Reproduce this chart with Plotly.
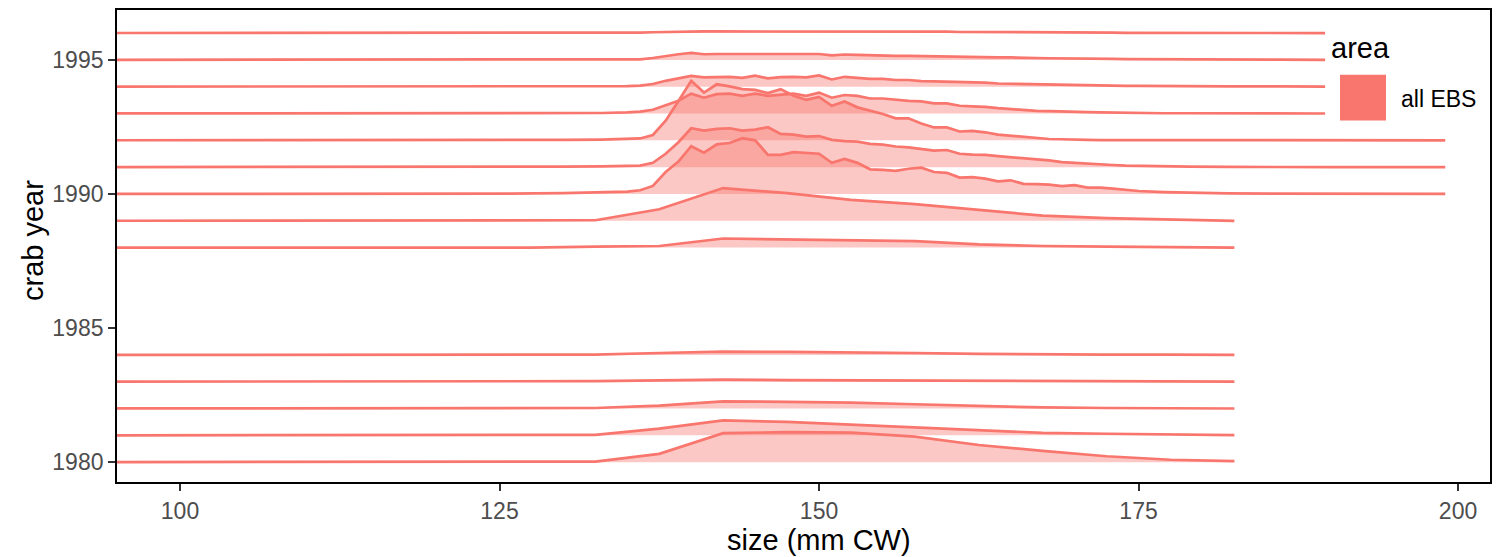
import plotly.graph_objects as go

# ---------------- data ----------------
years_coarse = [1980, 1981, 1982, 1983, 1984, 1988, 1989]
size_coarse = [90, 127.5, 132.5, 137.5, 142.5, 147.5, 152.5, 157.5, 162.5, 167.5, 172.5, 177.5, 182.5]
h1980 = [0, 0, 0.02, 0.31, 1.08, 1.12, 1.10, 0.95, 0.64, 0.42, 0.22, 0.09, 0.04]
h1981 = [0, 0, 0.02, 0.25, 0.56, 0.50, 0.40, 0.29, 0.20, 0.09, 0.06, 0.04, 0.01]
h1982 = [0, 0, 0.02, 0.11, 0.27, 0.25, 0.22, 0.16, 0.09, 0.04, 0.02, 0.01, 0]
h1983 = [0, 0, 0.02, 0.05, 0.08, 0.06, 0.05, 0.04, 0.03, 0.02, 0.01, 0.01, 0]
h1984 = [0, 0, 0.01, 0.07, 0.12, 0.11, 0.10, 0.07, 0.04, 0.02, 0.01, 0.01, 0]
h1988 = [0, 0, 0.04, 0.06, 0.34, 0.31, 0.28, 0.24, 0.12, 0.06, 0.04, 0.01, 0]
h1989 = [0, 0, 0.02, 0.43, 1.22, 1.03, 0.78, 0.62, 0.41, 0.19, 0.10, 0.04, 0]

size_left = [90, 120, 125, 130, 133, 135]
size_mid = list(range(136, 171))
size_right_a = [171, 172, 173, 174, 175, 177, 179, 182, 186, 190, 199]   # 1990-1992
size_right_b = [171, 172, 173, 174, 175, 177, 179, 182, 186, 189.6]      # 1993-1996

h1990 = ([0, 0, 0.01, 0.03, 0.05, 0.09] +
         [0.14, 0.30, 0.82, 1.21, 1.78, 1.54, 1.85, 1.90, 2.08, 2.00, 1.46, 1.46, 1.56, 1.54, 1.50,
          1.16, 1.31, 1.16, 0.92, 0.90, 0.86, 0.94, 0.98, 0.82, 0.79, 0.61, 0.63, 0.57, 0.47, 0.51,
          0.38, 0.37, 0.35, 0.29, 0.33] +
         [0.24, 0.24, 0.20, 0.15, 0.11, 0.07, 0.05, 0.02, 0.01, 0, 0])
h1991 = ([0, 0, 0.005, 0.02, 0.03, 0.04] +
         [0.06, 0.16, 0.50, 0.93, 1.45, 1.36, 1.43, 1.45, 1.36, 1.40, 1.49, 1.24, 1.21, 1.14, 1.16,
          1.02, 0.97, 0.95, 0.87, 0.84, 0.77, 0.74, 0.68, 0.62, 0.64, 0.50, 0.47, 0.46, 0.41, 0.37,
          0.35, 0.30, 0.25, 0.19, 0.16] +
         [0.12, 0.10, 0.08, 0.06, 0.05, 0.03, 0.02, 0.01, 0, 0, 0])
h1992 = ([0, 0, 0.005, 0.02, 0.03, 0.05] +
         [0.07, 0.20, 0.73, 1.47, 2.22, 1.78, 2.09, 2.01, 1.91, 1.88, 1.76, 1.91, 1.66, 1.51, 1.62,
          1.29, 1.45, 1.23, 1.10, 0.98, 0.82, 0.82, 0.63, 0.48, 0.48, 0.33, 0.35, 0.30, 0.21, 0.17,
          0.11, 0.07, 0.05, 0.04, 0.02] +
         [0.02, 0.01, 0.01, 0.01, 0, 0, 0, 0, 0, 0, 0])
h1993 = ([0, 0, 0, 0.01, 0.02, 0.04] +
         [0.07, 0.14, 0.32, 0.48, 0.74, 0.59, 0.72, 0.74, 0.66, 0.74, 0.66, 0.69, 0.74, 0.66, 0.78,
          0.59, 0.69, 0.66, 0.56, 0.56, 0.51, 0.47, 0.45, 0.38, 0.38, 0.29, 0.27, 0.25, 0.20, 0.16,
          0.12, 0.10, 0.09, 0.07, 0.06] +
         [0.05, 0.04, 0.03, 0.02, 0.02, 0.01, 0.01, 0, 0, 0])
h1994 = ([0, 0, 0, 0, 0.01, 0.02] +
         [0.04, 0.10, 0.22, 0.32, 0.40, 0.35, 0.36, 0.37, 0.33, 0.41, 0.31, 0.36, 0.37, 0.35, 0.42,
          0.27, 0.37, 0.33, 0.29, 0.29, 0.25, 0.25, 0.21, 0.20, 0.19, 0.16, 0.16, 0.15, 0.12, 0.11,
          0.10, 0.09, 0.07, 0.06, 0.05] +
         [0.05, 0.04, 0.04, 0.03, 0.03, 0.02, 0.02, 0.01, 0.01, 0])
h1995 = ([0, 0, 0, 0, 0, 0.01] +
         [0.02, 0.07, 0.15, 0.21, 0.26, 0.21, 0.22, 0.22, 0.21, 0.22, 0.21, 0.22, 0.22, 0.21, 0.22,
          0.17, 0.20, 0.19, 0.17, 0.16, 0.15, 0.15, 0.14, 0.12, 0.11, 0.11, 0.10, 0.10, 0.09, 0.09,
          0.07, 0.07, 0.06, 0.06, 0.05] +
         [0.05, 0.04, 0.04, 0.03, 0.03, 0.02, 0.02, 0.01, 0.01, 0])
h1996 = ([0, 0, 0, 0, 0, 0.01] +
         [0.02, 0.03, 0.04, 0.05, 0.07, 0.06, 0.06, 0.06, 0.06, 0.06, 0.07, 0.07, 0.07, 0.07, 0.06,
          0.06, 0.06, 0.06, 0.06, 0.06, 0.06, 0.05, 0.05, 0.05, 0.05, 0.04, 0.04, 0.04, 0.04, 0.03,
          0.03, 0.03, 0.03, 0.02, 0.02] +
         [0.02, 0.02, 0.02, 0.01, 0.01, 0.01, 0.01, 0.01, 0, 0])

x_ticks = [100, 125, 150, 175, 200]
y_ticks = [1980, 1985, 1990, 1995]
x_title = "size (mm CW)"
y_title = "crab year"
legend_title = "area"
legend_label = "all EBS"

ridges = {
    1980: (size_coarse, h1980), 1981: (size_coarse, h1981), 1982: (size_coarse, h1982),
    1983: (size_coarse, h1983), 1984: (size_coarse, h1984), 1988: (size_coarse, h1988),
    1989: (size_coarse, h1989),
    1990: (size_left + size_mid + size_right_a, h1990),
    1991: (size_left + size_mid + size_right_a, h1991),
    1992: (size_left + size_mid + size_right_a, h1992),
    1993: (size_left + size_mid + size_right_b, h1993),
    1994: (size_left + size_mid + size_right_b, h1994),
    1995: (size_left + size_mid + size_right_b, h1995),
    1996: (size_left + size_mid + size_right_b, h1996),
}

LINE = "#F8766D"
FILL = "rgba(248,118,109,0.4)"
FONT = "Liberation Sans, Arial, Helvetica, sans-serif"

fig = go.Figure()
for yr in sorted(ridges.keys(), reverse=True):
    xs, hs = ridges[yr]
    top = [yr + h for h in hs]
    poly_x = list(xs) + list(xs)[::-1]
    poly_y = top + [yr] * len(xs)
    fig.add_trace(go.Scatter(x=poly_x, y=poly_y, mode="lines", fill="toself",
                             fillcolor=FILL, line=dict(width=0), hoverinfo="skip",
                             showlegend=False))
    fig.add_trace(go.Scatter(x=xs, y=top, mode="lines",
                             line=dict(color=LINE, width=2.7), showlegend=False,
                             name=str(yr)))

L, R, T, B = 117, 16, 8, 75
W, H = 1506, 557
pw, ph = W - L - R, H - T - B

def px(x):
    return (x - L) / pw

def py(y):
    return (H - B - y) / ph

fig.add_shape(type="rect", xref="paper", yref="paper",
              x0=px(1340), x1=px(1386), y0=py(119), y1=py(73),
              fillcolor=LINE, line=dict(width=0), layer="above")
fig.add_annotation(xref="paper", yref="paper", x=px(1329), y=py(46), text=legend_title,
                   showarrow=False, xanchor="left", yanchor="middle",
                   font=dict(family=FONT, size=29, color="black"))
fig.add_annotation(xref="paper", yref="paper", x=px(1399), y=py(97), text=legend_label,
                   showarrow=False, xanchor="left", yanchor="middle",
                   font=dict(family=FONT, size=23, color="black"))
# axis titles
fig.add_annotation(xref="paper", yref="paper", x=px(819), y=py(540), text=x_title,
                   showarrow=False, xanchor="center", yanchor="middle",
                   font=dict(family=FONT, size=29, color="black"))
fig.add_annotation(xref="paper", yref="paper", x=px(33), y=py(240), text=y_title,
                   showarrow=False, xanchor="center", yanchor="middle", textangle=-90,
                   font=dict(family=FONT, size=29, color="black"))

fig.update_layout(
    width=W, height=H,
    margin=dict(l=L, r=R, t=T, b=B, pad=0),
    paper_bgcolor="white", plot_bgcolor="white",
    font=dict(family=FONT),
    xaxis=dict(range=[95.07, 202.5], tickvals=x_ticks, ticktext=[str(v) for v in x_ticks],
               showgrid=False, zeroline=False, showline=True, mirror=True,
               linecolor="black", linewidth=1.8, ticks="outside", ticklen=7, tickwidth=2,
               tickcolor="#333333", tickfont=dict(size=23, color="#4D4D4D", family=FONT)),
    yaxis=dict(range=[1979.26, 1996.86], tickvals=y_ticks, ticktext=[str(v) for v in y_ticks],
               showgrid=False, zeroline=False, showline=True, mirror=True,
               linecolor="black", linewidth=1.8, ticks="outside", ticklen=7, tickwidth=2,
               tickcolor="#333333", tickfont=dict(size=23, color="#4D4D4D", family=FONT)),
)

fig.write_html("out.html")
